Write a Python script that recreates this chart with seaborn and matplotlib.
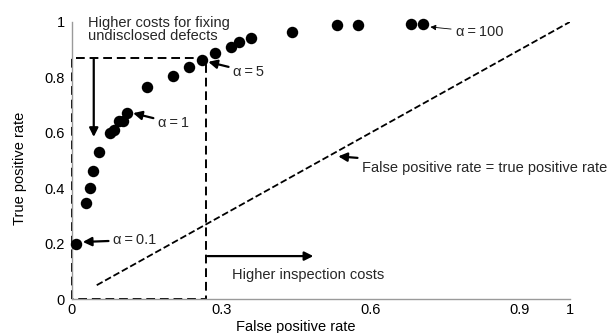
import matplotlib
matplotlib.use("Agg")
import matplotlib.pyplot as plt
import seaborn as sns
import pandas as pd

# ROC points (false positive rate, true positive rate)
fpr = [0.008, 0.028, 0.036, 0.042, 0.054, 0.076, 0.084, 0.094, 0.102, 0.110,
       0.150, 0.203, 0.236, 0.262, 0.288, 0.320, 0.336, 0.360, 0.443,
       0.532, 0.574, 0.681, 0.705]
tpr = [0.199, 0.347, 0.400, 0.462, 0.530, 0.600, 0.610, 0.643, 0.643, 0.671,
       0.765, 0.805, 0.838, 0.863, 0.888, 0.910, 0.928, 0.942, 0.964,
       0.989, 0.989, 0.993, 0.993]

diag_x = [0.05, 1.0]
diag_y = [0.05, 1.0]

rect_x = [0.0, 0.0, 0.27, 0.27, 0.0]
rect_y = [0.0, 0.87, 0.87, 0.0, 0.0]

xticks = [0, 0.3, 0.6, 0.9, 1]
xticklabels = ["0", "0.3", "0.6", "0.9", "1"]
yticks = [0, 0.2, 0.4, 0.6, 0.8, 1]
yticklabels = ["0", "0.2", "0.4", "0.6", "0.8", "1"]

sns.set_theme(style="white")
plt.rcParams["font.family"] = ["Liberation Sans", "DejaVu Sans"]

fig = plt.figure(figsize=(6.14, 3.33), dpi=100)
ax = fig.add_axes([0.117, 0.102, 0.811, 0.832])

df = pd.DataFrame({"fpr": fpr, "tpr": tpr})
sns.scatterplot(data=df, x="fpr", y="tpr", ax=ax, color="black", s=68,
                edgecolor="black", linewidth=0, clip_on=False, zorder=5)

sns.lineplot(x=diag_x, y=diag_y, ax=ax, color="black", lw=1.3,
             dashes=(5, 3), linestyle="--", sort=False)
ax.plot(rect_x, rect_y, color="black", lw=1.4, ls=(0, (4.5, 2.5)), clip_on=False)

ax.set_xlim(0, 1)
ax.set_ylim(0, 1)
ax.set_xticks(xticks)
ax.set_xticklabels(xticklabels)
ax.set_yticks(yticks)
ax.set_yticklabels(yticklabels)
for s in ["top", "right"]:
    ax.spines[s].set_visible(False)
for s in ["left", "bottom"]:
    ax.spines[s].set_color("#9a9a9a")
    ax.spines[s].set_linewidth(1.0)
ax.tick_params(direction="in", length=3, width=0.8, color="#7a7a7a",
               labelsize=10.5, labelcolor="black", pad=5)
ax.tick_params(axis="x", pad=3)

ax.set_xlabel("False positive rate", fontsize=10.5, color="black")
ax.set_ylabel("True positive rate", fontsize=10.5, color="black")
ax.xaxis.set_label_coords(0.45, -0.075)
ax.yaxis.set_label_coords(-0.09, 0.47)

fs = 10.5
thick = dict(arrowstyle="-|>", lw=1.6, color="black", mutation_scale=13,
             shrinkA=1, shrinkB=0)
thin = dict(arrowstyle="-|>", lw=0.6, color="black", mutation_scale=8,
            shrinkA=1, shrinkB=0)

ax.text(0.032, 0.972, "Higher costs for fixing\nundisclosed defects",
        fontsize=fs, ha="left", va="center", linespacing=0.95)
ax.annotate("", xy=(0.044, 0.585), xytext=(0.044, 0.87), arrowprops=thick)
ax.annotate("", xy=(0.485, 0.155), xytext=(0.27, 0.155), arrowprops=thick)
ax.text(0.322, 0.087, "Higher inspection costs", fontsize=fs, ha="left", va="center")

ax.annotate("α\u2009=\u20090.1", xy=(0.022, 0.206), xytext=(0.083, 0.213), fontsize=fs,
            ha="left", va="center", arrowprops=thick)
ax.annotate("α\u2009=\u20091", xy=(0.123, 0.671), xytext=(0.173, 0.635), fontsize=fs,
            ha="left", va="center", arrowprops=thick)
ax.annotate("α\u2009=\u20095", xy=(0.274, 0.856), xytext=(0.324, 0.82), fontsize=fs,
            ha="left", va="center", arrowprops=thick)
ax.annotate("α\u2009=\u2009100", xy=(0.72, 0.982), xytext=(0.771, 0.964), fontsize=fs,
            ha="left", va="center", arrowprops=thin, annotation_clip=False)
ax.annotate("False positive rate = true positive rate", xy=(0.535, 0.515),
            xytext=(0.583, 0.473), fontsize=fs, ha="left", va="center",
            arrowprops=thick, annotation_clip=False)

fig.savefig("out.png", dpi=100)
